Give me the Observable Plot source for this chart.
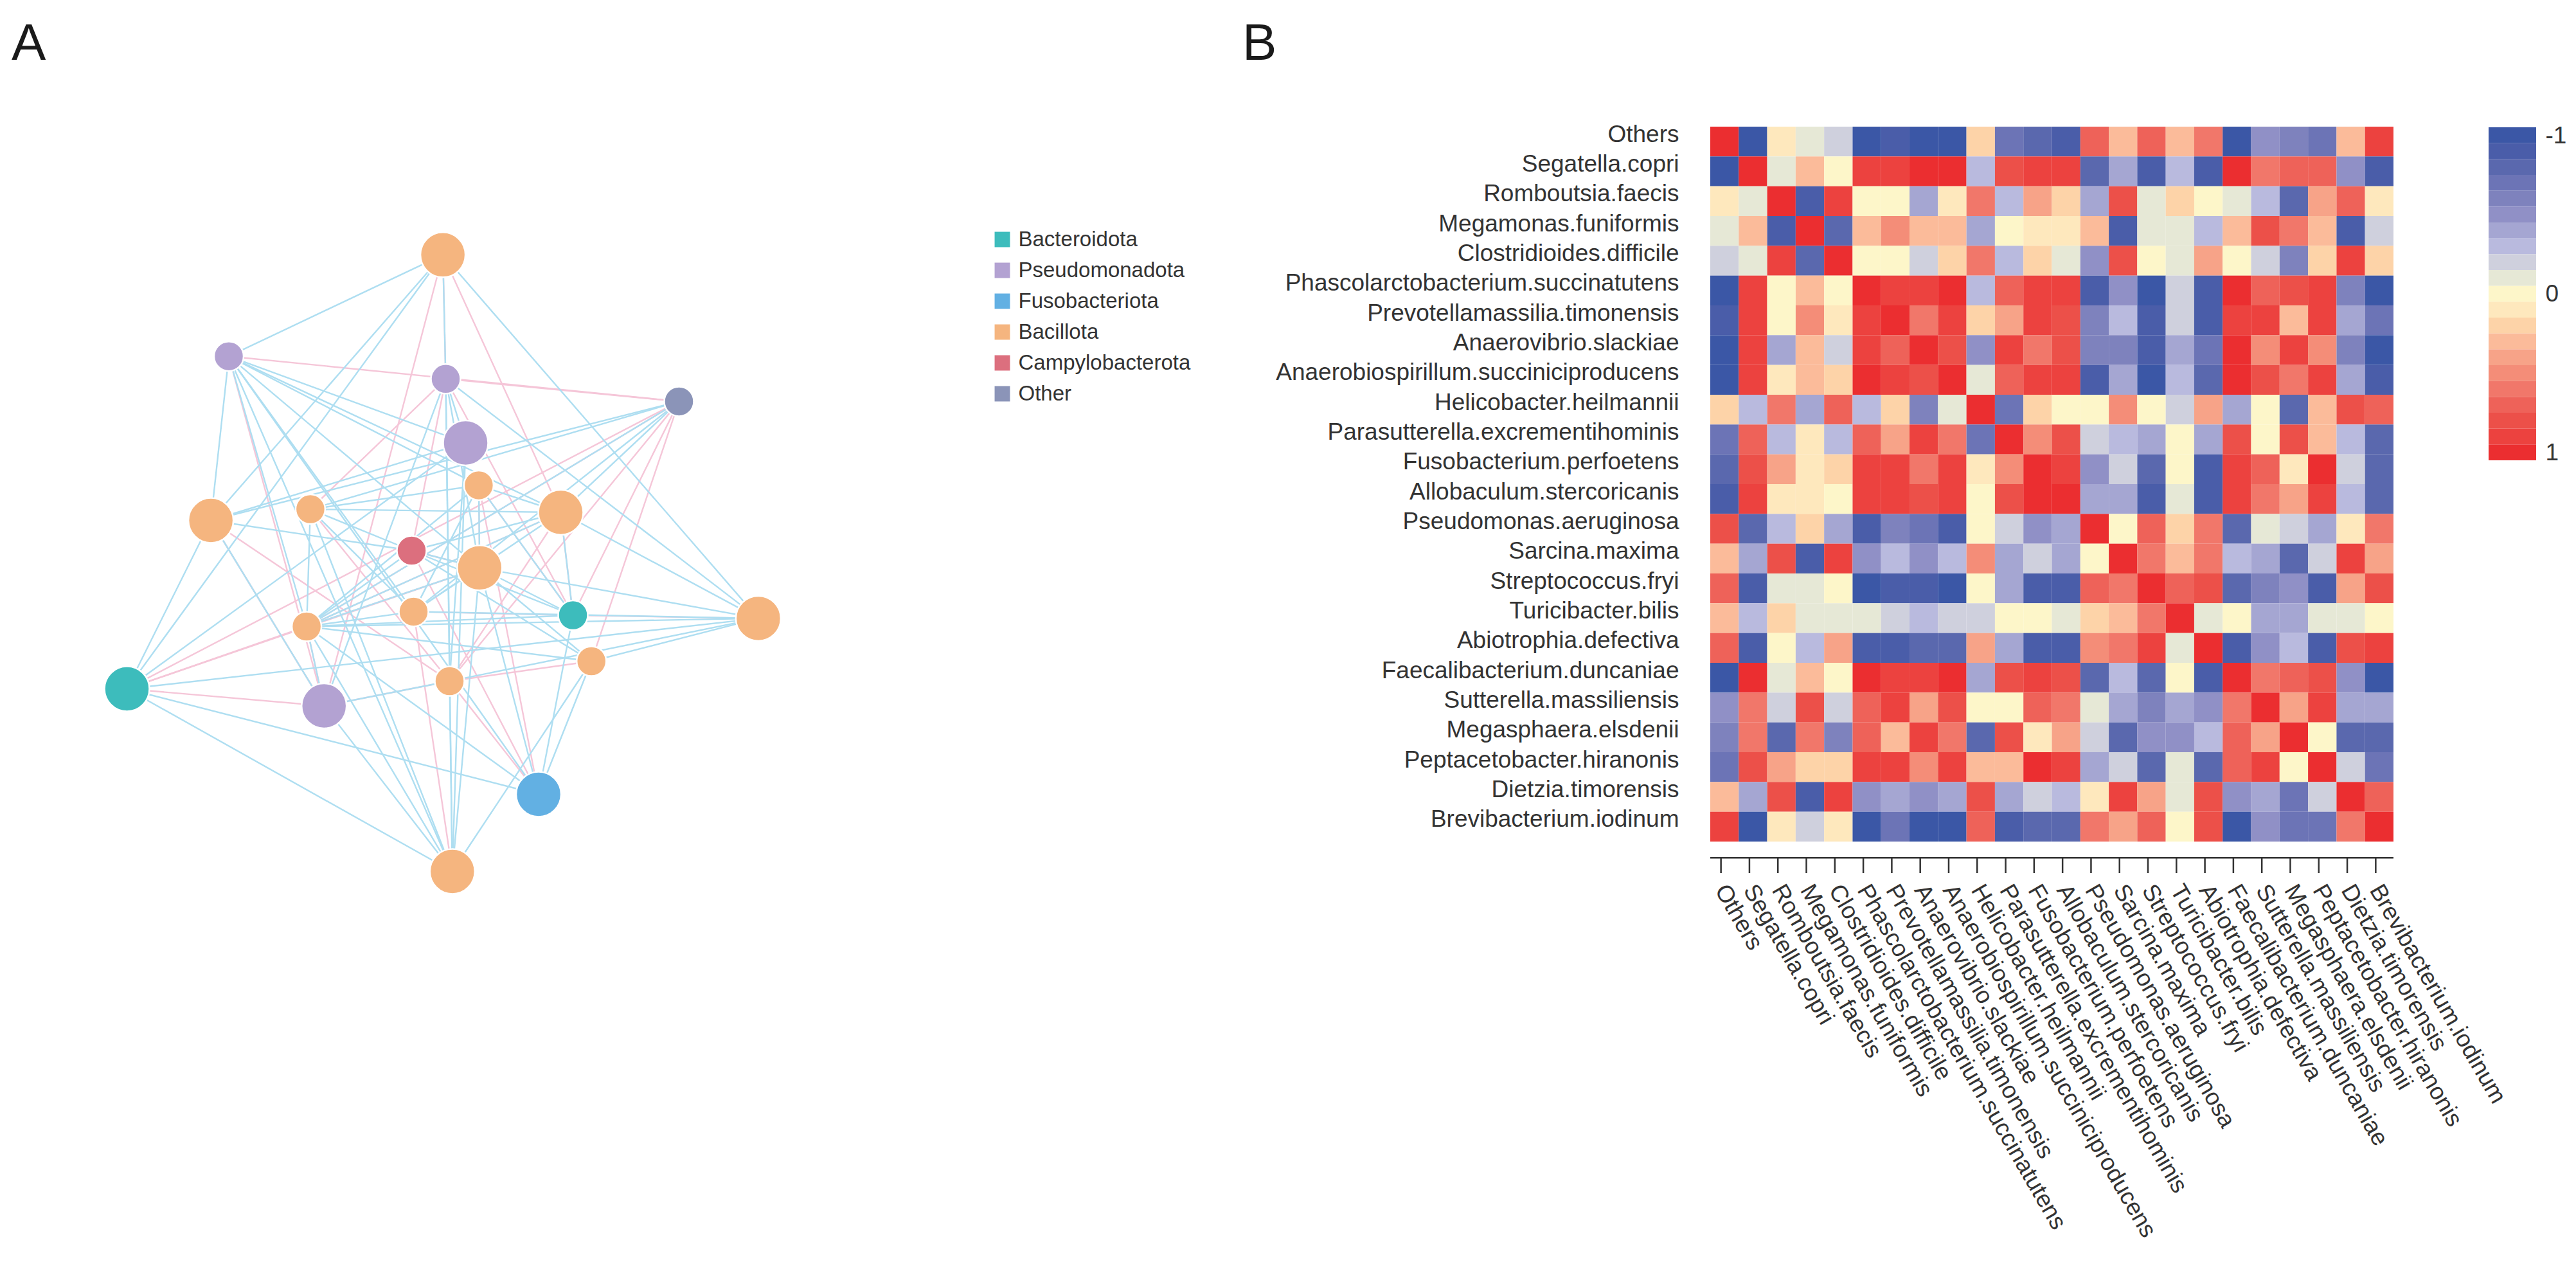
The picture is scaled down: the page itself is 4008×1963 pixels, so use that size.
<!DOCTYPE html>
<html>
<head>
<meta charset="utf-8">
<script src="https://cdn.jsdelivr.net/npm/d3@7"></script>
<script src="https://cdn.jsdelivr.net/npm/@observablehq/plot@0.6"></script>
<style>
html,body{margin:0;padding:0;background:#fff;}
#page{position:relative;width:4008px;height:1963px;overflow:hidden;font-family:"Liberation Sans",Arial,sans-serif;color:#2e2e2e;}
#page>*{position:absolute;}
.panel{font-size:80px;line-height:80px;color:#1a1a1a;}
svg{background:transparent !important;}
</style>
</head>
<body>
<div id="page"></div>
<script>
// ---------- Panel A: network ----------
const phyla = ["Bacteroidota","Pseudomonadota","Fusobacteriota","Bacillota","Campylobacterota","Other"];
const phylaColors = ["#3dbcbc","#b3a2d2","#62b0e3","#f5b57f","#dc6f7e","#8b94b8"];

const nodeX = [688.6,355.5,693,1056,724,744.4,327.6,482.4,872,640,745.8,643,891,1179.4,476.6,919.7,699,503.7,197,837.5,703.3];
const nodeY = [395.8,553.7,588.8,623.9,688.4,754.4,809,791.6,796.5,856,882.8,950.9,956.5,961.4,974,1028,1059,1097.5,1071,1235,1355];
const nodeR = [35,23,23,23,35,23,35,23,35,23,35,23,23,35,23,23,23,35,35,35,35];
const nodePhylum = ["Bacillota","Pseudomonadota","Pseudomonadota","Other","Pseudomonadota","Bacillota","Bacillota","Bacillota","Bacillota","Campylobacterota","Bacillota","Bacillota","Bacteroidota","Bacillota","Bacillota","Bacillota","Bacillota","Pseudomonadota","Bacteroidota","Fusobacteriota","Bacillota"];

// node numbers are 1-based positions in the node arrays
const blueEdges = [[1,2],[1,7],[1,19],[1,3],[1,14],[2,7],[2,21],[2,15],[2,12],[2,20],[2,5],[2,6],[2,9],[2,11],
[3,5],[3,21],[3,17],[3,14],[3,18],[3,11],[4,7],[4,8],[4,15],[4,9],[4,12],
[7,10],[7,19],[7,18],[7,5],[8,6],[8,9],[8,10],[8,15],[8,12],[8,21],
[19,5],[19,14],[19,20],[19,21],[18,21],[18,15],[18,17],
[15,14],[15,13],[15,12],[15,16],[15,9],[15,6],[15,11],[15,10],[15,20],[15,21],
[14,9],[14,11],[14,12],[14,16],[14,17],[20,11],[20,13],[20,16],[21,17],[21,16],[21,11],[21,5],
[6,9],[6,13],[6,11],[9,13],[9,10],[10,11],[10,13],[11,13],[11,16],[11,12],[12,6],[12,9],[10,16],[17,5]];
const pinkEdges = [[1,3],[1,9],[1,18],[2,18],[2,4],[3,4],[3,8],[3,13],[3,10],[4,15],[4,19],[4,13],[4,17],[4,16],
[7,18],[7,17],[8,17],[19,15],[19,18],[19,11],[18,17],[15,11],[15,9],[15,18],[14,13],[12,13],[12,21],[20,17],[20,10],[20,6],
[6,11],[6,13],[9,13],[9,17],[10,11],[16,17]];

const nodes = nodeX.map((x,i)=>({x,y:nodeY[i],r:nodeR[i],phylum:nodePhylum[i]}));
const edges = [
  ...pinkEdges.map(([a,b])=>({a:nodes[a-1],b:nodes[b-1],sign:"pos"})),
  ...blueEdges.map(([a,b])=>({a:nodes[a-1],b:nodes[b-1],sign:"neg"}))
];

const network = Plot.plot({
  width:1500,height:1963,margin:0,
  style:{background:"transparent"},
  x:{axis:null,domain:[0,1500],range:[0,1500]},
  y:{axis:null,domain:[0,1963],range:[0,1963]},
  r:{type:"identity"},
  color:{domain:phyla,range:phylaColors},
  marks:[
    Plot.link(edges,{x1:d=>d.a.x,y1:d=>d.a.y,x2:d=>d.b.x,y2:d=>d.b.y,
      stroke:d=>d.sign==="pos"?"#f5c6d8":"#aedef1",strokeWidth:2.4}),
    Plot.dot(nodes,{x:"x",y:"y",r:"r",fill:"phylum",stroke:"#fff",strokeWidth:2.5})
  ]
});
network.style.left="0px";network.style.top="0px";

const phylaLegend = Plot.plot({
  width:420,height:300,margin:0,
  style:{background:"transparent"},
  x:{axis:null,domain:[0,420],range:[0,420]},
  y:{axis:null,type:"point",domain:phyla,range:[30,270],padding:0},
  color:{domain:phyla,range:phylaColors},
  marks:[
    Plot.dot(phyla,{y:d=>d,frameAnchor:"left",dx:39,symbol:"square",r:13.5,fill:d=>d}),
    Plot.text(phyla,{y:d=>d,text:d=>d,frameAnchor:"left",dx:64,textAnchor:"start",
      fontSize:33,fontFamily:"Liberation Sans",fill:"#333"})
  ]
});
phylaLegend.style.left="1520px";phylaLegend.style.top="342px";

// ---------- Panel B: correlation heatmap ----------
const taxa = ["Others","Segatella.copri","Romboutsia.faecis","Megamonas.funiformis","Clostridioides.difficile","Phascolarctobacterium.succinatutens","Prevotellamassilia.timonensis","Anaerovibrio.slackiae","Anaerobiospirillum.succiniciproducens","Helicobacter.heilmannii","Parasutterella.excrementihominis","Fusobacterium.perfoetens","Allobaculum.stercoricanis","Pseudomonas.aeruginosa","Sarcina.maxima","Streptococcus.fryi","Turicibacter.bilis","Abiotrophia.defectiva","Faecalibacterium.duncaniae","Sutterella.massiliensis","Megasphaera.elsdenii","Peptacetobacter.hiranonis","Dietzia.timorensis","Brevibacterium.iodinum"];

const corr = [
[1,-.97,.08,-.12,-.2,-.97,-.9,-.98,-.98,.2,-.72,-.82,-.88,.72,.3,.68,.3,.62,-.97,-.48,-.62,-.72,.25,.85],
[-.97,1,-.12,.3,-.05,.92,.92,.95,.95,-.35,.75,.85,.92,-.85,-.45,-.93,-.32,-.95,.97,.62,.66,.72,-.52,-.95],
[.08,-.12,1,-.95,.85,.03,.03,-.38,.12,.55,-.32,.38,.16,-.38,.78,-.08,.2,.02,-.12,-.28,-.82,.38,.72,.06],
[-.12,.3,-.95,1,-.82,.33,.45,.25,.25,-.38,.03,.13,.13,.25,-.88,-.07,-.08,-.33,.25,.78,.55,.25,-.88,-.2],
[-.2,-.07,.85,-.82,1,-.02,.03,-.25,.22,.6,-.35,.2,-.07,-.52,.82,.03,-.07,.35,-.05,-.2,-.6,.2,.85,.15],
[-.97,.92,.03,.33,.02,.97,.9,.9,.97,-.35,.72,.92,.9,-.93,-.55,-.97,-.17,-.95,.97,.72,.75,.88,-.6,-.97],
[-.9,.87,.03,.45,.06,.85,1,.62,.92,.15,.35,.92,.82,-.65,-.32,-.88,-.25,-.95,.85,.9,.3,.92,-.4,-.75],
[-.97,.93,-.38,.25,-.25,.88,.65,1,.82,-.55,.88,.62,.78,-.65,-.6,-.93,-.38,-.75,.95,.45,.92,.5,-.6,-.97],
[-.98,.92,.1,.25,.2,.97,.92,.83,.97,-.1,.65,.93,.9,-.88,-.38,-.97,-.3,-.8,.97,.75,.62,.88,-.4,-.93],
[.22,-.3,.6,-.4,.65,-.32,.15,-.62,-.07,1,-.7,.15,.04,-.05,.45,.02,-.2,.4,-.4,.02,-.85,.3,.78,.72],
[-.75,.72,-.32,.05,-.35,.7,.35,.85,.62,-.72,.97,.5,.78,-.2,-.35,-.45,.03,-.45,.8,.03,.78,.32,-.35,-.85],
[-.8,.82,.4,.1,.2,.88,.9,.62,.92,.13,.48,.97,.93,-.5,-.2,-.85,.03,-.92,.85,.7,.13,.97,-.22,-.82],
[-.88,.9,.08,.12,-.03,.88,.85,.8,.9,.02,.75,.95,.98,-.45,-.42,-.9,-.08,-.9,.85,.6,.42,.9,-.3,-.8],
[.8,-.85,-.3,.22,-.45,-.9,-.62,-.68,-.88,-.05,-.2,-.5,-.45,1,.02,.7,.22,.55,-.8,-.15,-.2,-.42,.08,.62],
[.33,-.4,.82,-.9,.87,-.5,-.3,-.55,-.33,.45,-.38,-.2,-.42,.02,.97,.58,.3,.55,-.3,-.4,-.85,-.18,.88,.42],
[.72,-.93,-.08,-.07,.02,-.97,-.92,-.92,-.97,.02,-.45,-.88,-.9,.7,.58,1,.65,.82,-.82,-.6,-.55,-.9,.42,.75],
[.33,-.28,.2,-.08,-.08,-.12,-.2,-.32,-.25,-.18,.03,.03,-.08,.22,.3,.62,1,-.07,.02,-.38,-.45,-.07,-.15,.02],
[.65,-.95,.02,-.28,.42,-.95,-.95,-.8,-.82,.42,-.45,-.95,-.95,.5,.58,.85,-.07,1,-.93,-.5,-.32,-.9,.8,.85],
[-.98,.97,-.1,.25,-.05,.97,.88,.88,.97,-.38,.82,.85,.82,-.8,-.3,-.8,.03,-.9,1,.55,.65,.75,-.55,-.98],
[-.5,.58,-.22,.8,-.18,.65,.87,.42,.78,.03,.03,.68,.55,-.15,-.4,-.58,-.38,-.55,.55,1,.38,.9,-.42,-.45],
[-.65,.62,-.85,.55,-.58,.7,.32,.9,.62,-.85,.82,.12,.42,-.22,-.85,-.55,-.48,-.33,.65,.4,1,.03,-.8,-.8],
[-.75,.78,.35,.2,.15,.88,.92,.5,.9,.25,.27,.97,.9,-.42,-.18,-.85,-.07,-.85,.72,.88,.03,.98,-.25,-.75],
[.25,-.45,.75,-.95,.88,-.55,-.38,-.55,-.38,.75,-.38,-.25,-.33,.08,.87,.42,-.12,.75,-.5,-.45,-.75,-.2,1,.65],
[.85,-.97,.08,-.2,.12,-.97,-.72,-.97,-.97,.72,-.88,-.82,-.82,.62,.38,.72,.03,.8,-.97,-.55,-.75,-.72,.62,1]
];

const legendSteps = [-1,-0.9,-0.8,-0.7,-0.6,-0.5,-0.4,-0.3,-0.2,-0.1,0,0.1,0.2,0.3,0.4,0.5,0.6,0.7,0.8,0.9,1];
const bandEdges = [-0.95,-0.85,-0.75,-0.65,-0.55,-0.45,-0.35,-0.25,-0.15,-0.05,0.05,0.15,0.25,0.35,0.45,0.55,0.65,0.75,0.85,0.95];
const bandColors = ["#3b57a6","#4a5da9","#5a68ae","#6c74b6","#7e82bd","#9090c6","#a5a6d2","#b9bade","#cfd0dd","#e6e8d6","#fdf6c9","#fee8bd","#fdd3a8","#fbbb9a","#f7a388","#f48d78","#f1776a","#ee6259","#ec5049","#ec423f","#eb2e30"];

const cells = corr.flatMap((row,i)=>row.map((v,j)=>({row:taxa[i],col:taxa[j],v})));
const colorScale = {type:"threshold",domain:bandEdges,range:bandColors};

const heatmap = Plot.plot({
  width:4008,height:1963,
  marginLeft:2661,marginRight:284,marginTop:197,marginBottom:654,
  style:{background:"transparent",fontFamily:"Liberation Sans",color:"#333"},
  x:{type:"band",domain:taxa,padding:0,round:false,label:null},
  y:{type:"band",domain:taxa,padding:0,round:false,label:null},
  color:colorScale,
  marks:[
    Plot.cell(cells,{x:"col",y:"row",fill:"v"}),
    Plot.axisY({anchor:"left",tickSize:0,tickPadding:49,dy:-12,fontSize:37,label:null,fill:"#333"}),
    Plot.axisX({anchor:"bottom",tickSize:24,dy:25,tickPadding:20,dx:-6,tickRotate:60,fontSize:37,label:null,fill:"#333",stroke:"#333",strokeWidth:2.5}),
    Plot.ruleY([taxa[taxa.length-1]],{x1:()=>taxa[0],x2:()=>taxa[taxa.length-1],dy:48,stroke:"#333",strokeWidth:2.5})
  ]
});
heatmap.style.left="0px";heatmap.style.top="0px";

const colorbar = Plot.plot({
  width:130,height:518,
  marginLeft:0,marginRight:56,marginTop:0,marginBottom:0,
  style:{background:"transparent",fontFamily:"Liberation Sans",color:"#333",overflow:"visible"},
  x:{axis:null},
  y:{type:"band",domain:legendSteps,padding:0,round:false,axis:null},
  color:colorScale,
  marks:[
    Plot.cell(legendSteps,{y:d=>d,fill:d=>d}),
    Plot.axisY({anchor:"right",ticks:[-1,0,1],tickSize:0,tickPadding:14,fontSize:37,label:null,fill:"#333"})
  ]
});
colorbar.style.left="3872px";colorbar.style.top="198px";

const page = document.getElementById("page");
page.append(heatmap,network,phylaLegend,colorbar);

for (const [label,left] of [["A",18],["B",1933]]) {
  const d = document.createElement("div");
  d.className = "panel"; d.textContent = label;
  d.style.left = left+"px"; d.style.top = "26px";
  page.append(d);
}
</script>
</body>
</html>
